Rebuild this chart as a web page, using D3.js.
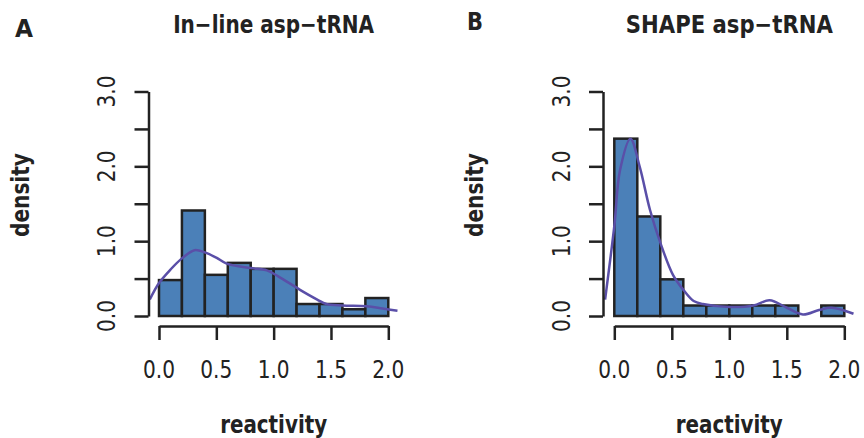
<!DOCTYPE html>
<html>
<head>
<meta charset="utf-8">
<script src="https://cdn.jsdelivr.net/npm/d3@7"></script>
<style>
  body { margin: 0; background: #fff; }
  text { font-family: "DejaVu Sans", sans-serif; fill: #222; }
</style>
</head>
<body>
<div id="chart"></div>
<script>
// histogram bins (width 0.2), densities
var binEdges = [0, 0.2, 0.4, 0.6, 0.8, 1.0, 1.2, 1.4, 1.6, 1.8, 2.0];
var inlineDensity = [0.48, 1.41, 0.55, 0.71, 0.63, 0.63, 0.16, 0.16, 0.09, 0.24];
var shapeDensity = [2.37, 1.33, 0.49, 0.14, 0.14, 0.14, 0.14, 0.14, 0, 0.14];

// kernel density curves [reactivity, density]
var inlineCurve = [[-0.08, 0.22], [0.0, 0.44], [0.1, 0.62], [0.2, 0.77], [0.31, 0.88], [0.4, 0.85],
  [0.5, 0.78], [0.59, 0.70], [0.8, 0.64], [0.94, 0.61], [1.04, 0.53], [1.23, 0.35], [1.38, 0.22],
  [1.46, 0.16], [1.6, 0.14], [1.81, 0.13], [1.95, 0.10], [2.08, 0.07]];
var shapeCurve = [[-0.08, 0.22], [0.0, 1.2], [0.05, 1.95], [0.14, 2.37], [0.22, 2.0], [0.31, 1.42],
  [0.40, 0.98], [0.51, 0.55], [0.60, 0.35], [0.69, 0.20], [0.77, 0.16], [1.0, 0.12], [1.21, 0.14],
  [1.35, 0.21], [1.5, 0.11], [1.64, 0.02], [1.78, 0.08], [1.89, 0.11], [2.08, 0.03]];

var xTicks = [0, 0.5, 1, 1.5, 2];
var yTicks = [0, 0.5, 1, 1.5, 2, 2.5, 3];
var yLabels = [0, 1, 2, 3];

var svg = d3.select("#chart").append("svg")
  .attr("width", 864).attr("height", 438);

var panels = [
  { letter: "A", title: "In\u2212line asp\u2212tRNA", titleW: 201, dens: inlineDensity, curve: inlineCurve,
    x0: 159, x1: 388.3, axisX: 148.5, letterX: 15, letterY: 37, letterW: 18 },
  { letter: "B", title: "SHAPE asp\u2212tRNA", titleW: 207, dens: shapeDensity, curve: shapeCurve,
    x0: 614.3, x1: 844.3, axisX: 603, letterX: 467, letterY: 30, letterW: 16 }
];

panels.forEach(function (p) {
  var g = svg.append("g");
  var x = d3.scaleLinear().domain([0, 2]).range([p.x0, p.x1]);
  var y = d3.scaleLinear().domain([0, 3]).range([316, 91.5]);
  var cx = (p.x0 + p.x1) / 2;

  // bars
  g.selectAll("rect.bar").data(p.dens).enter().append("rect")
    .attr("class", "bar")
    .attr("x", function (d, i) { return x(binEdges[i]); })
    .attr("width", function (d, i) { return x(binEdges[i + 1]) - x(binEdges[i]); })
    .attr("y", function (d) { return y(d); })
    .attr("height", function (d) { return y(0) - y(d); })
    .attr("fill", function (d) { return d > 0 ? "#4b80b8" : "none"; })
    .attr("stroke", function (d) { return d > 0 ? "#222" : "none"; })
    .attr("stroke-width", 2.5);

  // density line
  var line = d3.line()
    .x(function (d) { return x(d[0]); })
    .y(function (d) { return y(d[1]); })
    .curve(d3.curveCatmullRom);
  g.append("path").datum(p.curve)
    .attr("d", line)
    .attr("fill", "none")
    .attr("stroke", "#5a4fa8")
    .attr("stroke-width", 2.5);

  // y axis
  var ya = g.append("g").attr("transform", "translate(" + p.axisX + ",0)")
    .call(d3.axisLeft(y).tickValues(yTicks).tickSize(14).tickSizeOuter(0).tickFormat(""));
  ya.selectAll("path, line").attr("stroke", "#222").attr("stroke-width", 2.5);
  g.selectAll("text.ylab").data(yLabels).enter().append("text")
    .attr("transform", function (d) { return "translate(" + (p.axisX - 33.5) + "," + y(d) + ") rotate(-90)"; })
    .attr("text-anchor", "middle")
    .attr("font-size", 25)
    .attr("textLength", 32).attr("lengthAdjust", "spacingAndGlyphs")
    .text(function (d) { return d.toFixed(1); });

  // x axis
  var xa = g.append("g").attr("transform", "translate(0,326)")
    .call(d3.axisBottom(x).tickValues(xTicks).tickSize(14).tickSizeOuter(0).tickFormat(""));
  xa.selectAll("path, line").attr("stroke", "#222").attr("stroke-width", 2.5);
  g.selectAll("text.xlab").data(xTicks).enter().append("text")
    .attr("x", function (d) { return x(d); })
    .attr("y", 378)
    .attr("text-anchor", "middle")
    .attr("font-size", 25)
    .attr("textLength", 32).attr("lengthAdjust", "spacingAndGlyphs")
    .text(function (d) { return d.toFixed(1); });

  // titles and labels
  g.append("text").attr("x", cx).attr("y", 33)
    .attr("text-anchor", "middle").attr("font-size", 25).attr("font-weight", "bold")
    .attr("textLength", p.titleW).attr("lengthAdjust", "spacingAndGlyphs")
    .text(p.title);
  g.append("text").attr("x", cx).attr("y", 433)
    .attr("text-anchor", "middle").attr("font-size", 25).attr("font-weight", "bold")
    .attr("textLength", 107).attr("lengthAdjust", "spacingAndGlyphs")
    .text("reactivity");
  g.append("text")
    .attr("transform", "translate(" + (p.axisX - 120) + ",195) rotate(-90)")
    .attr("text-anchor", "middle").attr("font-size", 25).attr("font-weight", "bold")
    .attr("textLength", 84).attr("lengthAdjust", "spacingAndGlyphs")
    .text("density");
  g.append("text").attr("x", p.letterX).attr("y", p.letterY)
    .attr("font-size", 24).attr("font-weight", "bold")
    .attr("textLength", p.letterW).attr("lengthAdjust", "spacingAndGlyphs")
    .text(p.letter);
});
</script>
</body>
</html>
